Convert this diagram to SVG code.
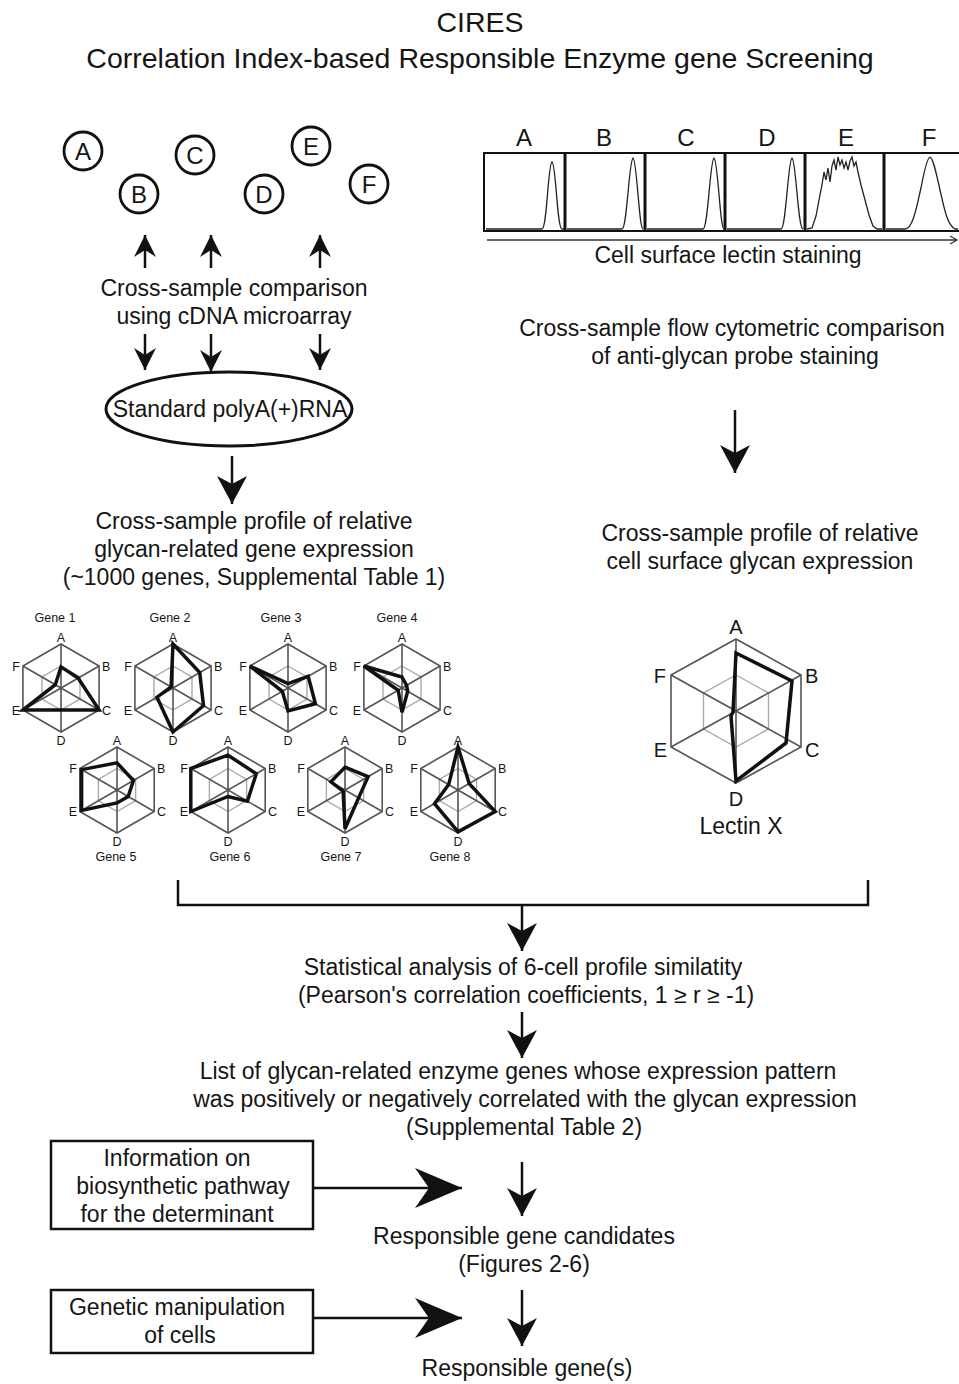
<svg xmlns="http://www.w3.org/2000/svg" width="959" height="1384" viewBox="0 0 959 1384">
<style>
text{font-family:"Liberation Sans",Arial,Helvetica,sans-serif;fill:#151515}
.t{font-size:23px;text-anchor:middle}
.ttl{font-size:28.5px;text-anchor:middle}
.cl{font-size:24px;text-anchor:middle}
.gl{font-size:12.5px}
.gt{font-size:12.5px;text-anchor:middle}
.lx{font-size:20px}
.circ{fill:none;stroke:#111;stroke-width:2.8}
.hex{fill:none;stroke:#555;stroke-width:1.6}
.inh{fill:none;stroke:#aaa;stroke-width:1.4}
.dat{fill:none;stroke:#111;stroke-width:3.5;stroke-linejoin:miter}
.ln{fill:none;stroke:#111;stroke-width:2.5}
.hist{fill:none;stroke:#222;stroke-width:1.3}
.box{fill:#fff;stroke:#111;stroke-width:2.5}
</style>
<defs>
<marker id="ah" markerUnits="userSpaceOnUse" viewBox="-30 -16 32 32" markerWidth="32" markerHeight="32" refX="0" refY="0" orient="auto"><path d="M0,0 L-28,-15 L-20,0 L-28,15 Z" fill="#111"/></marker>
<marker id="ahs" markerUnits="userSpaceOnUse" viewBox="-24 -12 26 24" markerWidth="26" markerHeight="24" refX="0" refY="0" orient="auto"><path d="M0,0 L-22,-11 L-15,0 L-22,11 Z" fill="#111"/></marker>
<marker id="ahl" markerUnits="userSpaceOnUse" viewBox="-50 -22 52 44" markerWidth="52" markerHeight="44" refX="0" refY="0" orient="auto"><path d="M0,0 L-47,-20 L-33,0 L-47,20 Z" fill="#111"/></marker>
<marker id="aht" markerUnits="userSpaceOnUse" viewBox="-8 -5 10 10" markerWidth="10" markerHeight="10" refX="0" refY="0" orient="auto"><path d="M-7,-4 L0,0 L-7,4" fill="none" stroke="#333" stroke-width="1.3"/></marker>
</defs>
<rect width="959" height="1384" fill="#fff"/>

<g id="title">
<text class="ttl" x="480" y="32">CIRES</text>
<text class="ttl" x="480" y="68">Correlation Index-based Responsible Enzyme gene Screening</text>
</g>

<g id="samples">
<g id="sA"><circle class="circ" cx="83" cy="151" r="19"/><text class="cl" x="83" y="160">A</text></g>
<g id="sB"><circle class="circ" cx="139" cy="194" r="19"/><text class="cl" x="139" y="203">B</text></g>
<g id="sC"><circle class="circ" cx="195" cy="155" r="19"/><text class="cl" x="195" y="164">C</text></g>
<g id="sD"><circle class="circ" cx="264" cy="194" r="19"/><text class="cl" x="264" y="203">D</text></g>
<g id="sE"><circle class="circ" cx="311" cy="146" r="19"/><text class="cl" x="311" y="155">E</text></g>
<g id="sF"><circle class="circ" cx="369" cy="184" r="19"/><text class="cl" x="369" y="193">F</text></g>
</g>

<g id="microarray"><text class="t" x="234" y="296">Cross-sample comparison</text><text class="t" x="234" y="324">using cDNA microarray</text></g>

<g id="polyA"><ellipse cx="229" cy="409" rx="123" ry="37" fill="#fff" stroke="#111" stroke-width="3"/><text class="t" x="230" y="417">Standard polyA(+)RNA</text></g>

<g id="geneProfileText"><text class="t" x="254" y="529">Cross-sample profile of relative</text><text class="t" x="254" y="557">glycan-related gene expression</text><text class="t" x="254" y="585">(~1000 genes, Supplemental Table 1)</text></g>

<g id="histograms">
<text class="cl" x="524" y="146">A</text><text class="cl" x="604" y="146">B</text><text class="cl" x="686" y="146">C</text><text class="cl" x="767" y="146">D</text><text class="cl" x="846" y="146">E</text><text class="cl" x="929" y="146">F</text>
<path d="M959,153 H484 V231 H959" fill="none" stroke="#111" stroke-width="2"/>
<path d="M565,153 V231 M645,153 V231 M725,153 V231 M805,153 V231 M884,153 V231" stroke="#111" stroke-width="3"/>
<path class="hist" d="M486,229 H542 C547,229 548,163 552,162 C556,163 557,229 562,229 H564"/>
<path class="hist" d="M567,229 H622 C627,229 629,160 633,158 C637,160 639,229 643,229"/>
<path class="hist" d="M647,229 H703 C708,229 710,160 714,158 C718,160 720,229 724,229"/>
<path class="hist" d="M727,229 H781 C786,229 788,160 792,158 C796,160 798,229 803,229"/>
<path class="hist" d="M807,229 L812,228 L816,216 L819,200 L822,185 L824,172 L826,180 L828,168 L830,182 L832,166 L834,160 L836,170 L838,157 L840,165 L842,160 L844,168 L846,162 L848,170 L850,161 L852,157 L854,166 L856,162 L858,172 L861,185 L865,200 L869,215 L873,226 L877,229 L882,229"/>
<path class="hist" d="M886,229 H905 C913,229 917,205 921,188 C924,172 927,158 930,157 C933,158 936,172 940,190 C944,207 947,225 955,229 H958"/>
<line x1="487" y1="240" x2="957" y2="240" stroke="#333" stroke-width="1.5" marker-end="url(#aht)"/>
<text class="t" x="728" y="263">Cell surface lectin staining</text>
</g>

<g id="flowText"><text class="t" x="732" y="336">Cross-sample flow cytometric comparison</text><text class="t" x="735" y="364">of anti-glycan probe staining</text></g>

<g id="glycanProfileText"><text class="t" x="760" y="541">Cross-sample profile of relative</text><text class="t" x="760" y="569">cell surface glycan expression</text></g>

<g id="genes">
<g id="gene1">
<text class="gt" x="55" y="622">Gene 1</text>
<polygon class="hex" points="61,644 99.1,666 99.1,710 61,732 22.9,710 22.9,666"/>
<polygon class="inh" points="61,666 80,677 80,699 61,710 42,699 42,677"/>
<path class="hex" d="M61,644 V732 M99.1,666 L22.9,710 M99.1,710 L22.9,666"/>
<polygon class="dat" points="61,666.9 78.1,678.1 99.1,710 61,710 22.9,710 55.3,684.7"/>
<text class="gl" x="61" y="642" text-anchor="middle">A</text><text class="gl" x="102" y="671">B</text><text class="gl" x="102" y="715">C</text><text class="gl" x="61" y="745" text-anchor="middle">D</text><text class="gl" x="20" y="715" text-anchor="end">E</text><text class="gl" x="20" y="671" text-anchor="end">F</text>
</g>
<g id="gene2">
<text class="gt" x="170" y="622">Gene 2</text>
<polygon class="hex" points="173,644 211.1,666 211.1,710 173,732 134.9,710 134.9,666"/>
<polygon class="inh" points="173,666 192,677 192,699 173,710 154,699 154,677"/>
<path class="hex" d="M173,644 V732 M211.1,666 L134.9,710 M211.1,710 L134.9,666"/>
<polygon class="dat" points="173,644 199.7,672.6 203.5,705.6 173,732 157,697.2 171.1,686.9"/>
<text class="gl" x="173" y="642" text-anchor="middle">A</text><text class="gl" x="214" y="671">B</text><text class="gl" x="214" y="715">C</text><text class="gl" x="173" y="745" text-anchor="middle">D</text><text class="gl" x="132" y="715" text-anchor="end">E</text><text class="gl" x="132" y="671" text-anchor="end">F</text>
</g>
<g id="gene3">
<text class="gt" x="281" y="622">Gene 3</text>
<polygon class="hex" points="288,644 326.1,666 326.1,710 288,732 249.9,710 249.9,666"/>
<polygon class="inh" points="288,666 307,677 307,699 288,710 269,699 269,677"/>
<path class="hex" d="M288,644 V732 M326.1,666 L249.9,710 M326.1,710 L249.9,666"/>
<polygon class="dat" points="288,683.6 308.2,676.3 315.4,703.8 288,710.9 282.3,691.3 249.9,666"/>
<text class="gl" x="288" y="642" text-anchor="middle">A</text><text class="gl" x="329" y="671">B</text><text class="gl" x="329" y="715">C</text><text class="gl" x="288" y="745" text-anchor="middle">D</text><text class="gl" x="247" y="715" text-anchor="end">E</text><text class="gl" x="247" y="671" text-anchor="end">F</text>
</g>
<g id="gene4">
<text class="gt" x="397" y="622">Gene 4</text>
<polygon class="hex" points="402,644 440.1,666 440.1,710 402,732 363.9,710 363.9,666"/>
<polygon class="inh" points="402,666 421,677 421,699 402,710 383,699 383,677"/>
<path class="hex" d="M402,644 V732 M440.1,666 L363.9,710 M440.1,710 L363.9,666"/>
<polygon class="dat" points="402,677 406.6,685.4 407.7,691.3 402,712.2 398.2,690.2 363.9,666"/>
<text class="gl" x="402" y="642" text-anchor="middle">A</text><text class="gl" x="443" y="671">B</text><text class="gl" x="443" y="715">C</text><text class="gl" x="402" y="745" text-anchor="middle">D</text><text class="gl" x="361" y="715" text-anchor="end">E</text><text class="gl" x="361" y="671" text-anchor="end">F</text>
</g>
<g id="gene5">
<polygon class="hex" points="117,747 154.2,768.5 154.2,811.5 117,833 79.8,811.5 79.8,768.5"/>
<polygon class="inh" points="117,768.5 135.6,779.3 135.6,800.7 117,811.5 98.4,800.7 98.4,779.3"/>
<path class="hex" d="M117,747 V833 M154.2,768.5 L79.8,811.5 M154.2,811.5 L79.8,768.5"/>
<polygon class="dat" points="117,762.9 133.4,780.5 128.2,796.5 117,802.9 81.6,810.4 81.6,769.6"/>
<text class="gl" x="117" y="745" text-anchor="middle">A</text><text class="gl" x="157" y="773">B</text><text class="gl" x="157" y="816">C</text><text class="gl" x="117" y="846" text-anchor="middle">D</text><text class="gl" x="77" y="816" text-anchor="end">E</text><text class="gl" x="77" y="773" text-anchor="end">F</text>
<text class="gt" x="116" y="861">Gene 5</text>
</g>
<g id="gene6">
<polygon class="hex" points="228,747 265.2,768.5 265.2,811.5 228,833 190.8,811.5 190.8,768.5"/>
<polygon class="inh" points="228,768.5 246.6,779.3 246.6,800.7 228,811.5 209.4,800.7 209.4,779.3"/>
<path class="hex" d="M228,747 V833 M265.2,768.5 L190.8,811.5 M265.2,811.5 L190.8,768.5"/>
<polygon class="dat" points="228,755.2 256.3,773.7 247.4,801.2 228,796.5 190.8,811.5 190.8,768.5"/>
<text class="gl" x="228" y="745" text-anchor="middle">A</text><text class="gl" x="268" y="773">B</text><text class="gl" x="268" y="816">C</text><text class="gl" x="228" y="846" text-anchor="middle">D</text><text class="gl" x="188" y="816" text-anchor="end">E</text><text class="gl" x="188" y="773" text-anchor="end">F</text>
<text class="gt" x="230" y="861">Gene 6</text>
</g>
<g id="gene7">
<polygon class="hex" points="345,747 382.2,768.5 382.2,811.5 345,833 307.8,811.5 307.8,768.5"/>
<polygon class="inh" points="345,768.5 363.6,779.3 363.6,800.7 345,811.5 326.4,800.7 326.4,779.3"/>
<path class="hex" d="M345,747 V833 M382.2,768.5 L307.8,811.5 M382.2,811.5 L307.8,768.5"/>
<polygon class="dat" points="345,767.2 368.1,776.7 358.6,797.9 345,828.7 343.1,791.1 330.9,781.8"/>
<text class="gl" x="345" y="745" text-anchor="middle">A</text><text class="gl" x="385" y="773">B</text><text class="gl" x="385" y="816">C</text><text class="gl" x="345" y="846" text-anchor="middle">D</text><text class="gl" x="305" y="816" text-anchor="end">E</text><text class="gl" x="305" y="773" text-anchor="end">F</text>
<text class="gt" x="341" y="861">Gene 7</text>
</g>
<g id="gene8">
<polygon class="hex" points="458,747 495.2,768.5 495.2,811.5 458,833 420.8,811.5 420.8,768.5"/>
<polygon class="inh" points="458,768.5 476.6,779.3 476.6,800.7 458,811.5 439.4,800.7 439.4,779.3"/>
<path class="hex" d="M458,747 V833 M495.2,768.5 L420.8,811.5 M495.2,811.5 L420.8,768.5"/>
<polygon class="dat" points="458,747 469.2,783.6 495.2,811.5 458,831.7 434.5,803.6 448.7,784.6"/>
<text class="gl" x="458" y="745" text-anchor="middle">A</text><text class="gl" x="498" y="773">B</text><text class="gl" x="498" y="816">C</text><text class="gl" x="458" y="846" text-anchor="middle">D</text><text class="gl" x="418" y="816" text-anchor="end">E</text><text class="gl" x="418" y="773" text-anchor="end">F</text>
<text class="gt" x="450" y="861">Gene 8</text>
</g>
</g>

<g id="lectinX">
<polygon class="hex" points="736,639 801,675 801,747 736,783 671,747 671,675" stroke-width="1.8"/>
<polygon class="inh" points="736,675 768.5,693 768.5,729 736,747 703.5,729 703.5,693"/>
<path class="hex" stroke-width="1.8" d="M736,639 V783 M801,675 L671,747 M801,747 L671,675"/>
<polygon class="dat" stroke-width="5" points="736,653 792,681 786,743 736,781 731,716 733,712"/>
<text class="lx" x="736" y="634" text-anchor="middle">A</text><text class="lx" x="805" y="683">B</text><text class="lx" x="805" y="757">C</text><text class="lx" x="736" y="806" text-anchor="middle">D</text><text class="lx" x="667" y="757" text-anchor="end">E</text><text class="lx" x="666" y="683" text-anchor="end">F</text>
<text class="t" x="741" y="834">Lectin X</text>
</g>

<g id="statText"><text class="t" x="523" y="975">Statistical analysis of 6-cell profile similatity</text><text class="t" x="526" y="1003">(Pearson's correlation coefficients, 1 ≥ r ≥ -1)</text></g>

<g id="listText"><text class="t" x="518" y="1079">List of glycan-related enzyme genes whose expression pattern</text><text class="t" x="525" y="1107">was positively or negatively correlated with the glycan expression</text><text class="t" x="524" y="1135">(Supplemental Table 2)</text></g>

<g id="infoBox"><rect class="box" x="51" y="1141" width="262" height="88"/><text class="t" x="177" y="1166">Information on</text><text class="t" x="183" y="1194">biosynthetic pathway</text><text class="t" x="177" y="1222">for the determinant</text></g>

<g id="candidates"><text class="t" x="524" y="1244">Responsible gene candidates</text><text class="t" x="524" y="1272">(Figures 2-6)</text></g>

<g id="geneticBox"><rect class="box" x="51" y="1290" width="262" height="63"/><text class="t" x="177" y="1315">Genetic manipulation</text><text class="t" x="180" y="1343">of cells</text></g>

<g id="result"><text class="t" x="527" y="1376">Responsible gene(s)</text></g>

<g id="connectors">
<line class="ln" x1="145" y1="268" x2="145" y2="235" marker-end="url(#ahs)"/>
<line class="ln" x1="211" y1="268" x2="211" y2="235" marker-end="url(#ahs)"/>
<line class="ln" x1="320" y1="268" x2="320" y2="235" marker-end="url(#ahs)"/>
<line class="ln" x1="145" y1="334" x2="145" y2="370" marker-end="url(#ahs)"/>
<line class="ln" x1="211" y1="334" x2="211" y2="372" marker-end="url(#ahs)"/>
<line class="ln" x1="320" y1="334" x2="320" y2="370" marker-end="url(#ahs)"/>
<line class="ln" x1="232" y1="456" x2="232" y2="504" marker-end="url(#ah)"/>
<line class="ln" x1="735" y1="410" x2="735" y2="473" marker-end="url(#ah)"/>
<path class="ln" d="M178,880 V905 H868 V880"/>
<line class="ln" x1="522" y1="905" x2="522" y2="951" marker-end="url(#ah)"/>
<line class="ln" x1="522" y1="1012" x2="522" y2="1058" marker-end="url(#ah)"/>
<line class="ln" x1="522" y1="1162" x2="522" y2="1216" marker-end="url(#ah)"/>
<line class="ln" x1="313" y1="1188" x2="462" y2="1188" marker-end="url(#ahl)"/>
<line class="ln" x1="522" y1="1290" x2="522" y2="1346" marker-end="url(#ah)"/>
<line class="ln" x1="313" y1="1318" x2="462" y2="1318" marker-end="url(#ahl)"/>
</g>
</svg>
